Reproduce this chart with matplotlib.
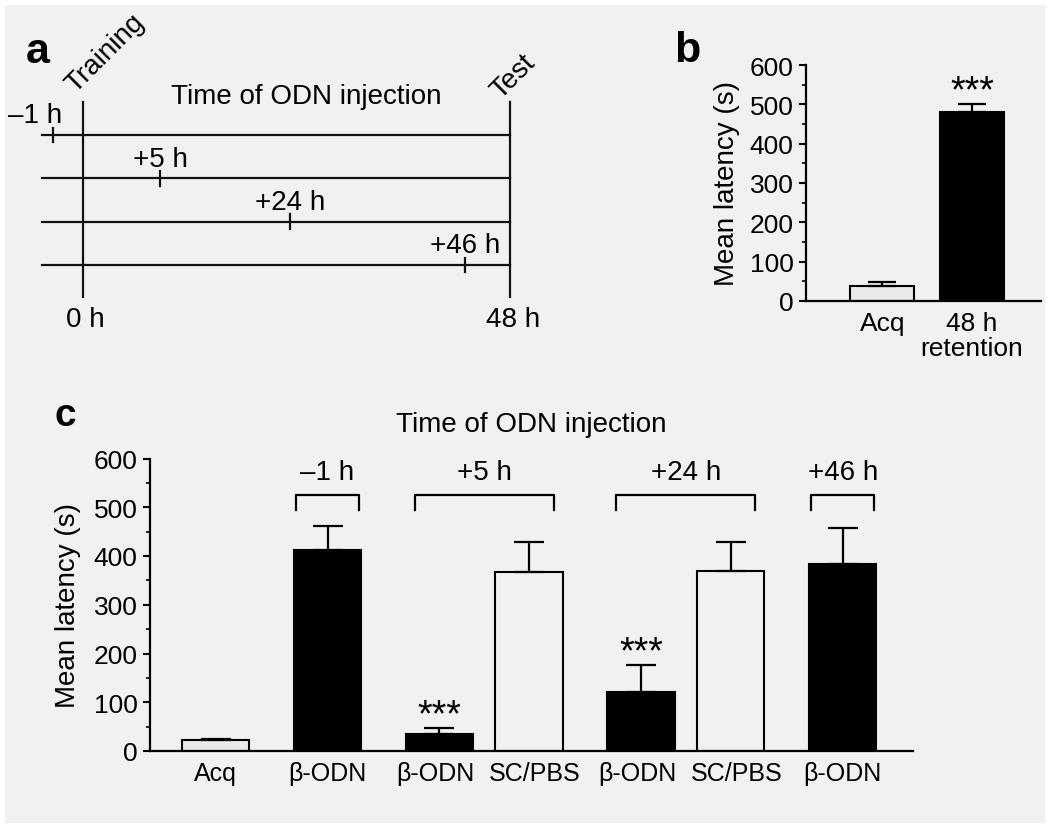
# ODN injection experiment: timeline (a), retention (b), injection timing (c)

import matplotlib.pyplot as plt
import matplotlib.patches as mpatches
import matplotlib.transforms as mtransforms

plt.rcParams['font.family'] = ['Liberation Sans', 'DejaVu Sans']

# Panel a data
inject_hours = [-1, 5, 24, 46]
inject_labels = ['–1 h', '+5 h', '+24 h', '+46 h']
event_labels = ['Training', 'Test']
event_hours = [0, 48]

# Panel b data
b_labels = ['Acq', '48 h\nretention']
b_means = [38, 481]
b_errs = [11, 20]
b_stars = [False, True]

# Panel c data
c_labels = ['Acq', 'β-ODN', 'β-ODN', 'SC/PBS', 'β-ODN', 'SC/PBS', 'β-ODN']
c_group = [0, 1, 2, 2, 3, 3, 4]
c_group_names = ['', '–1 h', '+5 h', '+24 h', '+46 h']
c_means = [22, 413, 35, 367, 122, 370, 384]
c_errs = [3, 49, 12, 62, 54, 58, 73]
c_stars = [False, False, True, False, True, False, False]

BG = '#f1f1f1'
fills = {'Acq': '#e9e9e9', 'β-ODN': 'black', 'SC/PBS': BG}
W, H = 1050, 829
FS = 20    # label text
TFS = 19   # tick labels

fig = plt.figure(figsize=(10.5, 8.29), dpi=100, facecolor='white')
fig.patches.append(mpatches.Rectangle((5 / W, 6 / H), 1039 / W, 817 / H,
                                      transform=fig.transFigure, color=BG, zorder=-10))


def px_axes(x0, y0, x1, y1):
    # axes box given in pixels (top-left origin)
    return fig.add_axes([x0 / W, 1 - y1 / H, (x1 - x0) / W, (y1 - y0) / H])


# ---------------- panel a: timeline ----------------
ax_a = px_axes(83, 136, 510, 266)
ax_a.set_xlim(0, 48)
ax_a.set_ylim(3, 0)
ax_a.axis('off')
ax_a.patch.set_alpha(0)

# schematic (not to scale) positions of the injection marks
mark_x = [-3.4, 8.7, 23.3, 42.9]
label_dx = [-2.0, 0, 0, 0]
kw = dict(color='#111111', lw=1.6, clip_on=False)
for row in range(len(inject_hours)):
    ax_a.plot([-4.6, 48], [row, row], **kw)
    ax_a.plot([mark_x[row]] * 2, [row - 0.17, row + 0.17], **kw)
    ax_a.text(mark_x[row] + label_dx[row], row - 0.45, inject_labels[row],
              ha='center', va='center', fontsize=FS)
for hx in event_hours:
    ax_a.plot([hx, hx], [-0.76, 3.74], **kw)
    ax_a.text(hx + 0.3, 4.25, f'{hx} h', ha='center', va='center', fontsize=FS)
ax_a.text(-0.9, -0.98, event_labels[0], rotation=45, rotation_mode='anchor',
          ha='left', va='baseline', fontsize=FS)
ax_a.text(46.9, -0.83, event_labels[1], rotation=45, rotation_mode='anchor',
          ha='left', va='baseline', fontsize=FS)
ax_a.text(25.1, -0.9, 'Time of ODN injection', ha='center', va='center', fontsize=FS)


def style_axes(ax):
    ax.patch.set_alpha(0)
    for s in ['top', 'right']:
        ax.spines[s].set_visible(False)
    for s in ['left', 'bottom']:
        ax.spines[s].set_linewidth(1.6)
    ax.set_ylim(0, 600)
    ax.set_yticks(range(0, 601, 100))
    ax.set_yticks(range(50, 600, 100), minor=True)
    ax.tick_params(axis='y', which='major', length=5, width=1.5, pad=4, labelsize=TFS)
    ax.tick_params(axis='y', which='minor', length=3, width=1.2)
    ax.tick_params(axis='x', length=0, labelsize=TFS)
    ax.set_ylabel('Mean latency (s)', fontsize=FS)


# ---------------- panel b ----------------
ax_b = px_axes(806, 66, 1041, 302)
style_axes(ax_b)
xb = list(range(len(b_means)))
ax_b.bar(xb, b_means, width=0.71, color=[fills['Acq'], 'black'],
         edgecolor='black', linewidth=1.5, zorder=2)
ax_b.errorbar(xb, b_means, yerr=[[0] * len(b_errs), b_errs], fmt='none',
              ecolor='black', elinewidth=1.6, capsize=10, capthick=1.6, zorder=3)
for x, m, e, s in zip(xb, b_means, b_errs, b_stars):
    if s:
        ax_b.annotate('***', (x, m + e), xytext=(0, 2), textcoords='offset points',
                      ha='center', va='baseline', fontsize=27)
ax_b.set_xlim(-0.848, 1.767)
ax_b.set_xticks(xb)
ax_b.set_xticklabels(b_labels, linespacing=1.05)
ax_b.tick_params(axis='x', pad=7)
ax_b.yaxis.set_label_coords(-0.28, 0.5)

# ---------------- panel c ----------------
ax_c = px_axes(150, 459.5, 913, 752)
style_axes(ax_c)
xc = []
pos = 0.0
for i, g in enumerate(c_group):
    if i > 0:
        pos += 0.8 if g == c_group[i - 1] else 1.0
    xc.append(pos)
ax_c.bar(xc, c_means, width=0.6, color=[fills[l] for l in c_labels],
         edgecolor='black', linewidth=1.5, zorder=2)
ax_c.errorbar(xc, c_means, yerr=[[0] * len(c_errs), c_errs], fmt='none',
              ecolor='black', elinewidth=1.6, capsize=11, capthick=1.6, zorder=3)
for x, m, e, s in zip(xc, c_means, c_errs, c_stars):
    if s:
        ax_c.annotate('***', (x, m + e), xytext=(0, 2), textcoords='offset points',
                      ha='center', va='baseline', fontsize=27)

# group brackets above the bars
for g, name in enumerate(c_group_names):
    if not name:
        continue
    members = [x for x, gg in zip(xc, c_group) if gg == g]
    if len(members) == 1:
        x0, x1 = members[0] - 0.28, members[0] + 0.28
    else:
        x0, x1 = members[0] - 0.22, members[-1] + 0.22
    ax_c.plot([x0, x0, x1, x1], [494, 525, 525, 494], color='black', lw=1.6,
              clip_on=False)
    ax_c.text((x0 + x1) / 2, 573, name, ha='center', va='center', fontsize=FS)

ax_c.set_xlim(-0.585, 6.228)
ax_c.set_xticks(xc)
ax_c.set_xticklabels(c_labels)
ax_c.tick_params(axis='x', pad=7, labelsize=18)
# nudge paired labels apart a little
for i, lab in enumerate(ax_c.get_xticklabels()):
    shift = 0
    if i + 1 < len(c_group) and c_group[i + 1] == c_group[i]:
        shift = -3
    elif i > 0 and c_group[i - 1] == c_group[i]:
        shift = 4
    lab.set_transform(lab.get_transform() +
                      mtransforms.ScaledTranslation(shift / 72, 0, fig.dpi_scale_trans))
ax_c.yaxis.set_label_coords(-0.09, 0.5)
ax_c.set_title('Time of ODN injection', fontsize=FS, pad=0, y=1.095)

# panel letters
fig.text(26 / W, 1 - 63 / H, 'a', fontsize=31, fontweight='bold', va='baseline')
fig.text(674 / W, 1 - 62 / H, 'b', fontsize=31, fontweight='bold', va='baseline')
fig.text(54 / W, 1 - 426 / H, 'c', fontsize=28, fontweight='bold', va='baseline')

fig.savefig('out.png', dpi=100, facecolor=fig.get_facecolor())
